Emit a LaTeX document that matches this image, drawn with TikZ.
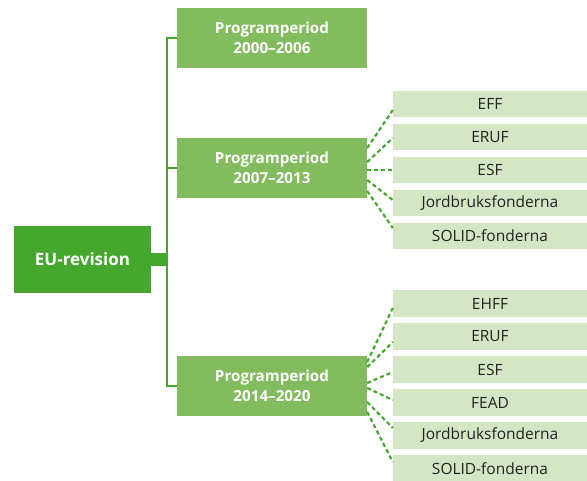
\documentclass[tikz,border=0pt]{standalone}
\usepackage{fontspec}
\setmainfont{Open Sans}
\usetikzlibrary{calc}
\definecolor{dkgreen}{HTML}{45A72E}
\definecolor{mdgreen}{HTML}{82BC5F}
\definecolor{ltgreen}{HTML}{D4E6C4}
\definecolor{txtdark}{HTML}{222222}
\tikzset{
  eubox/.style={fill=dkgreen, text=white, font=\fontsize{17}{20}\selectfont\bfseries, minimum width=137pt, minimum height=67pt, inner sep=0pt},
  perbox/.style={fill=mdgreen, text=white, font=\fontsize{15.2}{20}\selectfont\bfseries, minimum width=190pt, minimum height=60pt, inner sep=0pt, align=center},
  fundbox/.style={fill=ltgreen, text=txtdark, font=\fontsize{15.5}{17}\selectfont, minimum width=194pt, minimum height=26pt, inner sep=0pt},
  fundboxb/.style={fundbox, minimum height=27pt},
  trunk/.style={draw=dkgreen, line width=2pt},
  fundlink/.style={draw=dkgreen, line width=2.2pt, dash pattern=on 4pt off 3pt}
}
\begin{document}
\begin{tikzpicture}[x=1pt,y=-1pt]
\useasboundingbox (0,0) rectangle (587,480);
% main nodes
\node[eubox] (eu) at (82.5,259.5) {EU-revision};
\node[perbox] (p1) at (272,38) {Programperiod\\2000–2006};
\node[perbox] (p2) at (272,168) {Programperiod\\2007–2013};
\node[perbox] (p3) at (272,386) {Programperiod\\2014–2020};
% top funds
\node[fundbox] (a1) at (490,104) {EFF};
\node[fundbox] (a2) at (490,137) {ERUF};
\node[fundbox] (a3) at (490,170) {ESF};
\node[fundbox] (a4) at (490,203) {Jordbruksfonderna};
\node[fundbox] (a5) at (490,236) {SOLID-fonderna};
% bottom funds
\node[fundboxb] (b1) at (490,303.5) {EHFF};
\node[fundboxb] (b2) at (490,336.5) {ERUF};
\node[fundboxb] (b3) at (490,369.5) {ESF};
\node[fundboxb] (b4) at (490,402.5) {FEAD};
\node[fundboxb] (b5) at (490,435.5) {Jordbruksfonderna};
\node[fundboxb] (b6) at (490,468.5) {SOLID-fonderna};
% trunk
\coordinate (tk) at (167,259.5);
\draw[trunk] (p1.west) -| (tk) |- (p3.west);
\draw[trunk] (p2.west) -- (p2.west -| tk);
\draw[draw=dkgreen, line width=13pt] (eu.east) -- (tk);
% dashed links top
\draw[fundlink] ($(p2.east)+(0,-20)$) -- ($(a1.west)+(0,6)$);
\draw[fundlink] ($(p2.east)+(0,-6)$) -- ($(a2.west)+(0,1)$);
\draw[fundlink] ($(p2.east)+(0,2)$) -- (a3.west);
\draw[fundlink] ($(p2.east)+(0,12)$) -- ($(a4.west)+(0,-3)$);
\draw[fundlink] ($(p2.east)+(0,23)$) -- ($(a5.west)+(0,-8)$);
% dashed links bottom
\draw[fundlink] ($(p3.east)+(0,-24)$) -- ($(b1.west)+(0,4.5)$);
\draw[fundlink] ($(p3.east)+(0,-19)$) -- ($(b2.west)+(0,5.5)$);
\draw[fundlink] ($(p3.east)+(0,-3)$) -- ($(b3.west)+(0,2.5)$);
\draw[fundlink] ($(p3.east)+(0,2)$) -- ($(b4.west)+(0,-2.5)$);
\draw[fundlink] ($(p3.east)+(0,16)$) -- ($(b5.west)+(0,-7.5)$);
\draw[fundlink] ($(p3.east)+(0,26)$) -- ($(b6.west)+(0,-6.5)$);
\end{tikzpicture}
\end{document}
